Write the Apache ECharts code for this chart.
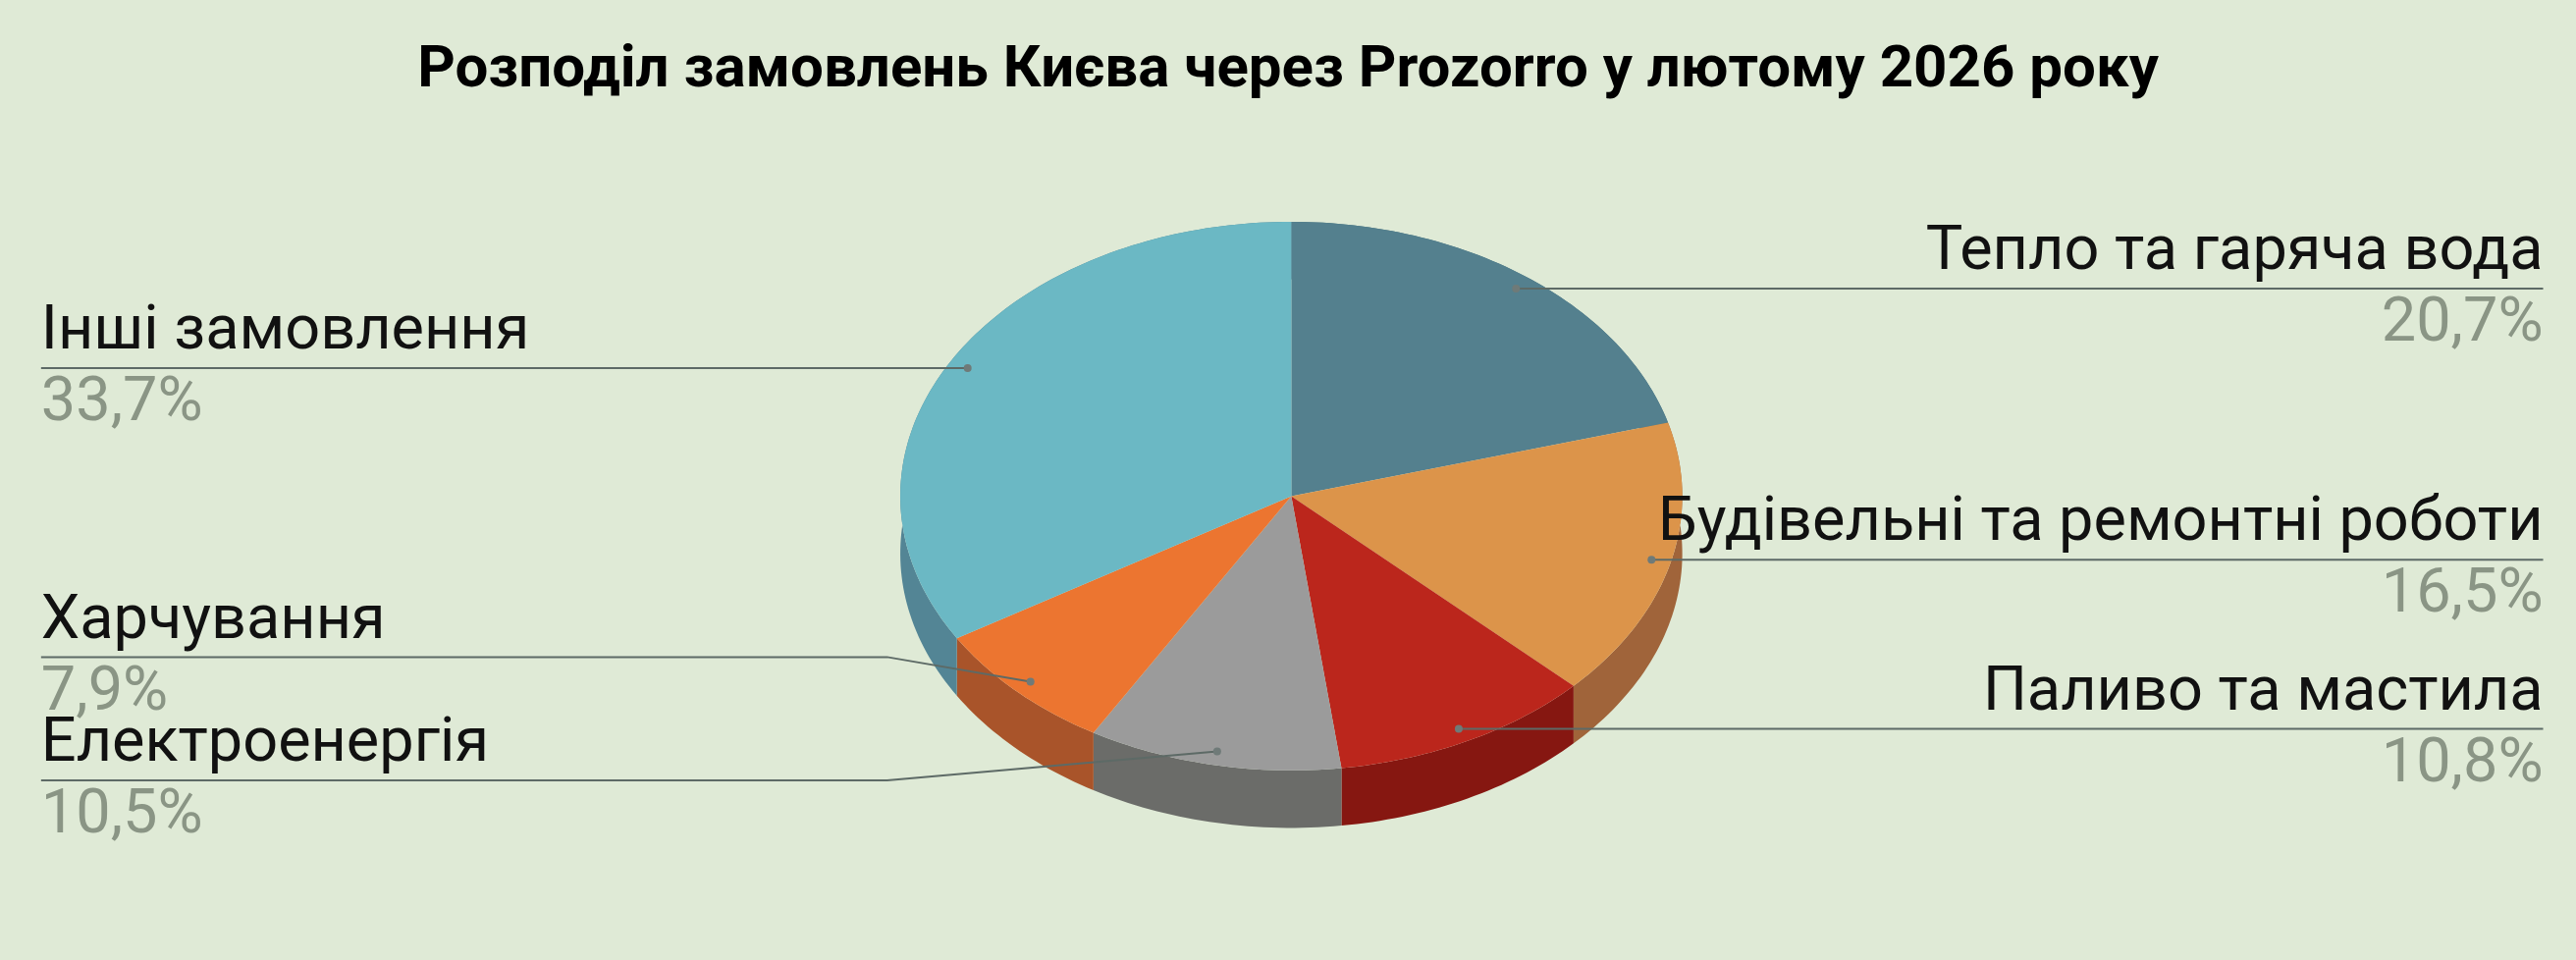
<!DOCTYPE html>
<html><head><meta charset="utf-8">
<script src="https://cdn.jsdelivr.net/npm/echarts@6/dist/echarts.min.js"></script>
<style>html,body{margin:0;padding:0;background:#dfead6}#c{width:2624px;height:978px}</style>
</head><body><div id="c"></div>
<script>
const titleText = 'Розподіл замовлень Києва через Prozorro у лютому 2026 року';
const categories = ['Тепло та гаряча вода','Будівельні та ремонтні роботи','Паливо та мастила','Електроенергія','Харчування','Інші замовлення'];
const values = [20.7, 16.5, 10.8, 10.5, 7.9, 33.7];
const labels = ['20,7%','16,5%','10,8%','10,5%','7,9%','33,7%'];
const topColors = ['#54808e','#dc944a','#bb261c','#9b9b9b','#ec7530','#6bb8c4'];
const sideColors = ['#46707d','#a0643a','#861711','#6b6c69','#a9542a','#538595'];

const S = 2624/1568;
const cx = 786*S, cy = 302*S, rx = 238*S, ry = 167*S, depth = 35*S;
const total = values.reduce((a,b)=>a+b,0);
const starts = [], ends = [];
let acc = 0;
values.forEach(v=>{starts.push(acc/total*2*Math.PI); acc+=v; ends.push(acc/total*2*Math.PI);});
function pt(t, f, dy){ return [cx + rx*f*Math.sin(t), cy - ry*f*Math.cos(t) + (dy||0)]; }
function arc(a,b,dy){ const n=Math.max(4,Math.ceil((b-a)/0.02)); const p=[]; for(let i=0;i<=n;i++) p.push(pt(a+(b-a)*i/n,1,dy)); return p; }
const labelLayout = [
  {side:'r'},{side:'r'},{side:'r'},
  {side:'l', elbowY:475},{side:'l', elbowY:400},{side:'l'}
];
const xL = 25*S, xR = 1548*S, elbowX = 540*S;

function renderSide(params, api){
  const i = params.dataIndex;
  const top = arc(starts[i], ends[i], 0);
  const bot = arc(starts[i], ends[i], depth).reverse();
  return {type:'polygon', shape:{points: top.concat(bot)}, style:{fill: sideColors[i]}};
}
function renderTop(params, api){
  const i = params.dataIndex;
  return {type:'polygon', shape:{points: [[cx,cy]].concat(arc(starts[i], ends[i], 0))}, style:{fill: topColors[i]}};
}
function renderLabel(params, api){
  const i = params.dataIndex;
  const mid = (starts[i]+ends[i])/2;
  const p = pt(mid, 0.95, 0);
  const L = labelLayout[i];
  let pts, ly, tx, align;
  if (L.side==='r'){ ly=p[1]; pts=[p,[xR,ly]]; tx=xR; align='right'; }
  else if (L.elbowY){ ly=L.elbowY*S; pts=[p,[elbowX,ly],[xL,ly]]; tx=xL; align='left'; }
  else { ly=p[1]; pts=[p,[xL,ly]]; tx=xL; align='left'; }
  const fs = 63;
  return {type:'group', children:[
    {type:'polyline', shape:{points:pts}, style:{stroke:'#5d6a66', lineWidth:2, fill:null}},
    {type:'circle', shape:{cx:p[0], cy:p[1], r:4}, style:{fill:'#6f7a78'}},
    {type:'text', style:{text:categories[i], x:tx, y:ly-4, align:align, verticalAlign:'bottom', fontSize:fs, fontFamily:'Roboto', fill:'#111'}},
    {type:'text', style:{text:labels[i], x:tx, y:ly+6, align:align, verticalAlign:'top', fontSize:fs, fontFamily:'Roboto', fill:'#8a9585'}}
  ]};
}
const data = values.map((v,i)=>({name:categories[i], value:v}));
const chart = echarts.init(document.getElementById('c'));
chart.setOption({
  backgroundColor:'#dfead6',
  animation:false,
  title:{text:titleText, left:'center', top:38, textStyle:{fontFamily:'Roboto', fontWeight:'bold', fontSize:60, color:'#000'}},
  series:[
    {type:'custom', coordinateSystem:'none', renderItem:renderSide, data:data, z:1},
    {type:'custom', coordinateSystem:'none', renderItem:renderTop, data:data, z:2},
    {type:'custom', coordinateSystem:'none', renderItem:renderLabel, data:data, z:3}
  ]
});
</script></body></html>
